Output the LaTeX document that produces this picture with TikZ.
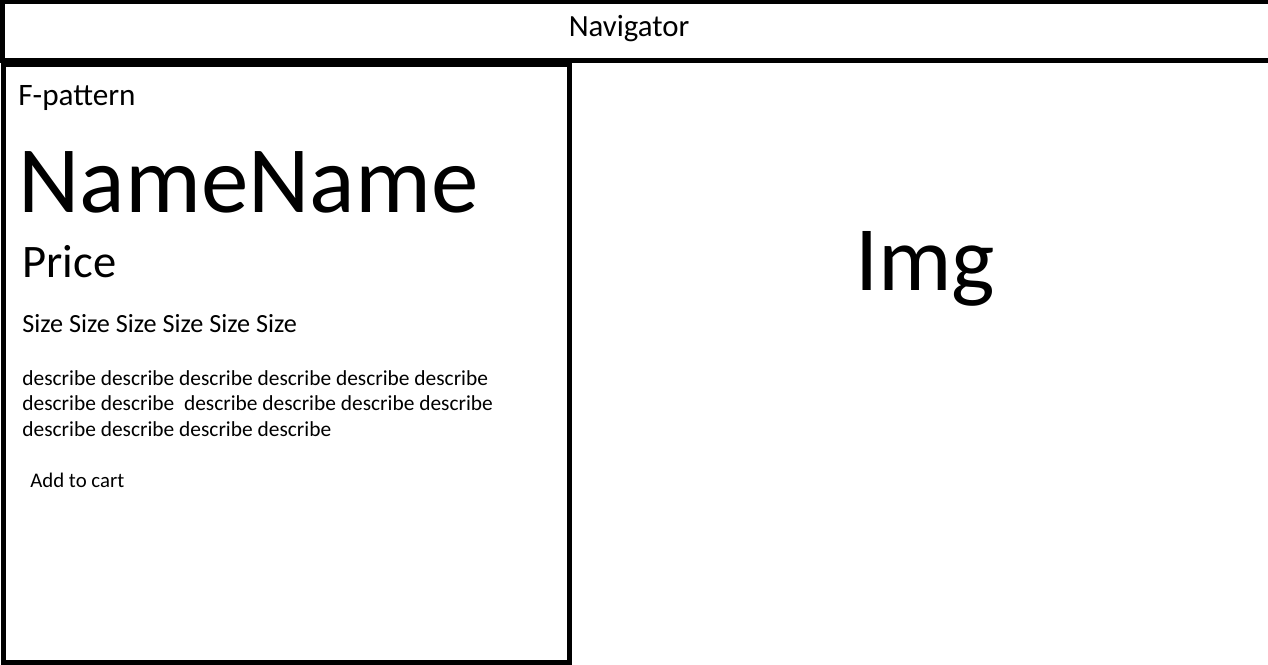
\documentclass[tikz,border=0pt]{standalone}
\usepackage{fontspec}
\setmainfont{Carlito}
\usepackage{tikz}

\tikzset{
  frame/.style={line width=2.5pt},
  label/.style={inner sep=0pt, anchor=base west},
}

\begin{document}
\begin{tikzpicture}[x=0.5pt, y=-0.5pt]
        \useasboundingbox (0,0) rectangle (1268,664);
        \fill[white] (0,0) rectangle (1268,664);

        % Navigacijos juosta
        \draw[frame] (2.5,1) rectangle (1280,60.5);
        \node[inner sep=0pt, anchor=base, font=\fontsize{15.4}{18}\selectfont] (nav) at (629,36) {Navigator};

        % Kairysis skydelis
        \draw[frame] (3.5,64.5) rectangle (569.5,662);

        % Tekstai skydelyje
        \def\lx{18}
        \node[label, font=\fontsize{15.6}{18}\selectfont] (fpat) at (\lx,105) {F-pattern};
        \node[label, font=\fontsize{47.5}{50}\selectfont] (name) at (\lx,212) {NameName};
        \node[label, font=\fontsize{23.3}{26}\selectfont] (price) at (22,277) {Price};
        \node[label, font=\fontsize{13.1}{15}\selectfont] (size) at (22,332) {Size Size Size Size Size Size};
        % paskutine eilute -- bazine linija
        \node[label, align=left, font=\fontsize{10.7}{12.75}\selectfont] (desc) at (22,436) {%
          describe describe describe describe describe describe\\
          describe describe\ \ describe describe describe describe\\
          describe describe describe describe};
        \node[label, font=\fontsize{10.4}{12}\selectfont] (cart) at (30,487) {Add to cart};

        % Paveikslelis
        \node[inner sep=0pt, anchor=base, font=\fontsize{46}{50}\selectfont] (img) at (925,290) {Img};
    \end{tikzpicture}
\end{document}
